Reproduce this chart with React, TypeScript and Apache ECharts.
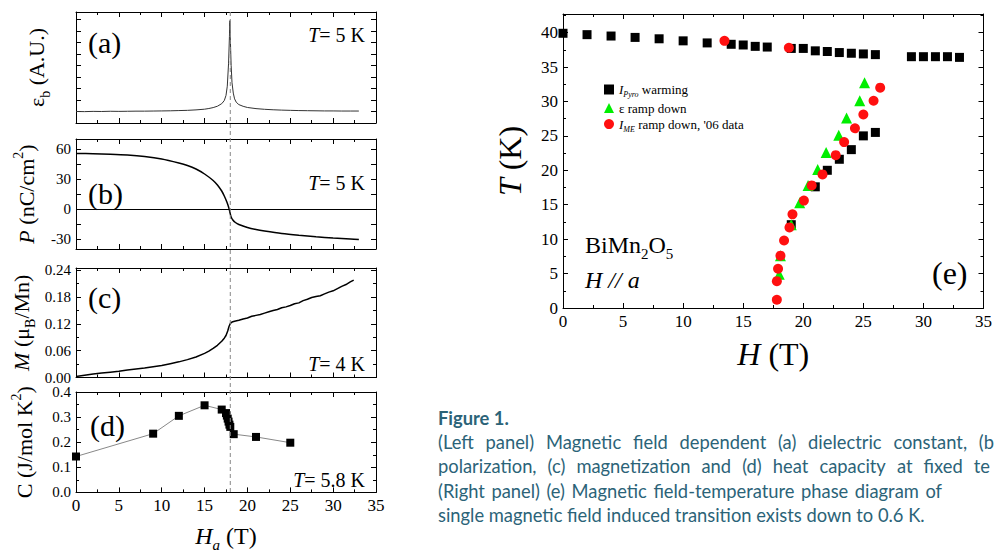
import React, { useEffect, useRef } from "react";
import * as echarts from "echarts";

const SERIF = "'Liberation Serif', 'Times New Roman', serif";
const CAPTION_FONT = "Lato, 'Open Sans', sans-serif";
const CAPTION_COLOR = "#2b6378";

// (a) dielectric constant vs field
const fieldA = [0, 1, 2, 3, 4, 5, 6, 7, 8, 9, 10, 11, 12, 13, 14, 15, 15.5, 16, 16.5, 17, 17.3, 17.5, 17.65, 17.8, 17.9, 17.95, 18.0, 18.1, 18.2, 18.35, 18.5, 18.7, 19, 19.5, 20, 21, 22, 23, 24, 25, 26, 27, 28, 29, 30, 31, 32, 33];
const epsA = [1.0, 0.99, 1.01, 1.0, 1.02, 1.01, 1.02, 1.03, 1.03, 1.04, 1.05, 1.06, 1.08, 1.1, 1.14, 1.2, 1.26, 1.34, 1.46, 1.68, 1.95, 2.4, 3.2, 5.2, 7.5, 8.9, 7.4, 5.0, 3.5, 2.6, 2.1, 1.8, 1.6, 1.45, 1.35, 1.25, 1.19, 1.15, 1.12, 1.1, 1.08, 1.07, 1.06, 1.05, 1.05, 1.04, 1.04, 1.04];

// (b) polarization
const fieldP = [0, 2, 4, 6, 8, 10, 12, 13, 14, 15, 16, 16.5, 17, 17.3, 17.6, 17.8, 17.95, 18.1, 18.3, 18.6, 19, 20, 21, 22, 24, 26, 28, 30, 32, 33];
const polP = [55.5, 55.3, 54.8, 54, 52.5, 50, 46, 43.5, 40, 35, 28.5, 24, 18, 13, 7, 2, -3, -8, -11, -13.5, -15.5, -18.5, -20.5, -22, -24.5, -26.3, -27.8, -29, -30, -30.5];

// (c) magnetization
const fieldM = [0, 1, 2, 3, 4, 5, 6, 7, 8, 9, 10, 11, 12, 13, 14, 15, 15.5, 16, 16.5, 17, 17.3, 17.5, 17.7, 17.85, 18, 18.2, 18.5, 19, 19.5, 20, 20.5, 21, 21.5, 22, 22.5, 23, 23.5, 24, 24.5, 25, 25.5, 26, 26.5, 27, 27.5, 28, 28.5, 29, 29.5, 30, 30.5, 31, 31.5, 32, 32.4];
const magM = [0.002, 0.005, 0.008, 0.01, 0.012, 0.014, 0.017, 0.019, 0.021, 0.024, 0.027, 0.031, 0.035, 0.04, 0.046, 0.054, 0.059, 0.065, 0.072, 0.081, 0.088, 0.094, 0.104, 0.114, 0.121, 0.124, 0.126, 0.128, 0.131, 0.133, 0.137, 0.139, 0.141, 0.144, 0.147, 0.15, 0.152, 0.156, 0.158, 0.161, 0.165, 0.167, 0.172, 0.175, 0.179, 0.181, 0.183, 0.187, 0.191, 0.194, 0.199, 0.204, 0.208, 0.214, 0.218];

// (d) heat capacity
const fieldC = [0, 9, 12, 15, 17, 17.5, 17.6, 17.7, 17.8, 17.9, 18.0, 18.4, 21, 25];
const heatC = [0.143, 0.234, 0.305, 0.347, 0.33, 0.316, 0.306, 0.294, 0.282, 0.27, 0.261, 0.232, 0.221, 0.198];

// (e) phase diagram
const pyroH = [0, 2, 4, 6, 8, 10, 12, 14, 15, 16, 17, 19, 20, 21, 22, 23, 24, 25, 26, 29, 30, 31, 32, 33, 19, 21, 22, 23, 24, 25, 26];
const pyroT = [39.9, 39.7, 39.5, 39.3, 39.1, 38.8, 38.5, 38.3, 38.2, 38.0, 37.9, 37.7, 37.7, 37.35, 37.25, 37.1, 37.0, 36.9, 36.8, 36.5, 36.5, 36.5, 36.5, 36.4, 12.1, 17.6, 20.0, 21.6, 23.0, 25.0, 25.5];
const epsH = [18.0, 18.1, 19.0, 19.7, 20.4, 21.2, 21.9, 22.95, 23.6, 24.7, 25.1];
const epsT = [4.9, 7.6, 12.1, 15.3, 17.8, 20.1, 22.6, 25.1, 27.6, 30.1, 32.7];
const imeH = [13.44, 18.8, 17.8, 17.8, 17.9, 18.1, 18.4, 18.85, 19.1, 20.05, 20.7, 21.6, 22.7, 23.4, 24.3, 25.0, 25.85, 26.4];
const imeT = [38.8, 37.8, 1.2, 3.9, 5.7, 7.6, 9.8, 11.7, 13.6, 15.6, 17.8, 19.4, 22.2, 24.1, 26.1, 28.1, 30.1, 32.0];

const TRANSITION_FIELD = 18;

// caption (visible portion of each line)
const captionTitle = "Figure 1.";
const captionLines = [
  "(Left panel) Magnetic field dependent (a) dielectric constant, (b",
  "polarization, (c) magnetization and (d) heat capacity at fixed te",
  "(Right panel) (e) Magnetic field-temperature phase diagram of",
  "single magnetic field induced transition exists down to 0.6 K.",
];

const zip = (xs: number[], ys: number[]) => xs.map((x, i) => [x, ys[i]]);

function rich(F: number) {
  const base = { fontFamily: SERIF, color: "#000", fill: "#000" };
  const s = Math.round(F * 0.62);
  return {
    n: { ...base, fontSize: F, lineHeight: F * 1.2 },
    i: { ...base, fontSize: F, fontStyle: "italic", lineHeight: F * 1.2 },
    sub: { ...base, fontSize: s, lineHeight: F * 1.4, verticalAlign: "bottom" },
    isub: { ...base, fontSize: s, fontStyle: "italic", lineHeight: F * 1.4, verticalAlign: "bottom" },
    sup: { ...base, fontSize: s, lineHeight: F * 1.4, verticalAlign: "top" },
  };
}

const tickStyle = { color: "#000", width: 1 };

function axisCommon(min: number, max: number, interval: number | undefined, minor: boolean) {
  return {
    min,
    max,
    interval,
    axisLine: { show: true, onZero: false, lineStyle: { color: "#000", width: 1 } },
    axisTick: { show: true, inside: true, length: 5, lineStyle: tickStyle },
    minorTick: { show: minor, splitNumber: 2, length: 3, lineStyle: tickStyle },
    splitLine: { show: false },
    minorSplitLine: { show: false },
  };
}

const labelStyleL = { fontFamily: SERIF, fontSize: 15, color: "#000", margin: 5 };
const labelStyleR = { fontFamily: SERIF, fontSize: 17, color: "#000", margin: 5 };

let measureCtx: CanvasRenderingContext2D | null = null;
function measure(text: string, font: string) {
  if (!measureCtx) measureCtx = document.createElement("canvas").getContext("2d");
  measureCtx!.font = font;
  return measureCtx!.measureText(text).width;
}

export default function App() {
  const ref = useRef<HTMLDivElement>(null);
  useEffect(() => {
    if (!ref.current) return;
    const chart = echarts.init(ref.current, null, { renderer: "svg" });

    const leftGrids = [
      { left: 76, top: 12, width: 300, height: 111 },
      { left: 76, top: 139, width: 300, height: 110 },
      { left: 76, top: 268, width: 300, height: 109.5 },
      { left: 76, top: 392, width: 300, height: 111 },
    ];
    const grids = [...leftGrids, { left: 563, top: 14, width: 427, height: 294 }];

    const yRanges = [
      { min: 0, max: 9.65, interval: 1, minor: false },
      { min: -40, max: 70, interval: undefined, minor: false },
      { min: 0, max: 0.245, interval: 0.06, minor: true },
      { min: 0, max: 0.4, interval: 0.1, minor: true },
    ];
    const yNames = [
      { name: "{n|ε}{sub|b}{n| (A.U.)}", gap: 24 },
      { name: "{i|P}{n| (nC/cm}{sup|2}{n|)}", gap: 34 },
      { name: "{i|M}{n| (μ}{sub|B}{n|/Mn)}", gap: 39 },
      { name: "{n|C (J/mol K}{sup|2}{n|)}", gap: 36 },
    ];

    const xAxis: any[] = [];
    const yAxis: any[] = [];
    for (let g = 0; g < 4; g++) {
      xAxis.push({
        type: "value",
        gridIndex: g,
        position: "bottom",
        ...axisCommon(0, 35, 5, true),
        axisLabel: { show: g === 3, ...labelStyleR },
        name: g === 3 ? "{i|H}{isub|a}{n| (T)}" : "",
        nameLocation: "middle",
        nameGap: 27,
        nameTextStyle: { rich: rich(24) },
      });
      xAxis.push({
        type: "value",
        gridIndex: g,
        position: "top",
        ...axisCommon(0, 35, 5, true),
        axisLabel: { show: false },
      });
      const yr = yRanges[g];
      const custom = g === 1;
      const tickVals = [-30, -15, 0, 15, 30, 45, 60];
      const labVals = [-30, 0, 30, 60];
      const fmt = g === 2 ? (v: number) => v.toFixed(2) : g === 3 ? (v: number) => v.toFixed(1) : (v: number) => String(v);
      yAxis.push({
        type: "value",
        gridIndex: g,
        position: "left",
        ...axisCommon(yr.min, yr.max, yr.interval, yr.minor),
        ...(custom ? { axisTick: { show: true, inside: true, length: 5, lineStyle: tickStyle, customValues: tickVals } } : {}),
        axisLabel: {
          show: g !== 0,
          ...labelStyleL,
          formatter: fmt,
          showMaxLabel: g === 3 ? true : g === 2 ? false : undefined,
          ...(custom ? { customValues: labVals } : {}),
        },
        name: yNames[g].name,
        nameLocation: "middle",
        nameRotate: 90,
        nameGap: yNames[g].gap,
        nameTextStyle: { rich: rich(22) },
      });
      yAxis.push({
        type: "value",
        gridIndex: g,
        position: "right",
        ...axisCommon(yr.min, yr.max, yr.interval, yr.minor),
        ...(custom ? { axisTick: { show: true, inside: true, length: 5, lineStyle: tickStyle, customValues: tickVals } } : {}),
        axisLabel: { show: false },
      });
    }
    // panel (e)
    xAxis.push({
      type: "value",
      gridIndex: 4,
      position: "bottom",
      ...axisCommon(0, 35, 5, true),
      axisLabel: { show: true, ...labelStyleR },
      name: "{i|H}{n| (T)}",
      nameLocation: "middle",
      nameGap: 27,
      nameTextStyle: { rich: rich(32) },
    });
    xAxis.push({
      type: "value",
      gridIndex: 4,
      position: "top",
      ...axisCommon(0, 35, 5, true),
      axisLabel: { show: false },
    });
    yAxis.push({
      type: "value",
      gridIndex: 4,
      position: "left",
      ...axisCommon(0, 42.7, 5, true),
      axisLabel: { show: true, ...labelStyleR, showMaxLabel: false },
      name: "{i|T}{n| (K)}",
      nameLocation: "middle",
      nameRotate: 90,
      nameGap: 34,
      nameTextStyle: { rich: rich(32) },
    });
    yAxis.push({
      type: "value",
      gridIndex: 4,
      position: "right",
      ...axisCommon(0, 42.7, 5, true),
      axisLabel: { show: false },
    });

    const legendNames: Record<string, string> = {
      "I_Pyro warming": "{i|I}{isub|Pyro}{n| warming}",
      "ε ramp down": "{n|ε ramp down}",
      "I_ME ramp down, '06 data": "{i|I}{isub|ME}{n| ramp down, '06 data}",
    };

    const series: any[] = [
      {
        type: "line",
        xAxisIndex: 0,
        yAxisIndex: 0,
        data: zip(fieldA, epsA),
        showSymbol: false,
        lineStyle: { color: "#333", width: 1 },
      },
      {
        type: "line",
        xAxisIndex: 2,
        yAxisIndex: 2,
        data: zip(fieldP, polP),
        showSymbol: false,
        smooth: 0.3,
        lineStyle: { color: "#000", width: 1.5 },
        markLine: {
          silent: true,
          symbol: "none",
          label: { show: false },
          lineStyle: { color: "#000", width: 1, type: "solid" },
          data: [{ yAxis: 0 }],
        },
      },
      {
        type: "line",
        xAxisIndex: 4,
        yAxisIndex: 4,
        data: zip(fieldM, magM),
        showSymbol: false,
        lineStyle: { color: "#000", width: 1.5 },
      },
      {
        type: "line",
        xAxisIndex: 6,
        yAxisIndex: 6,
        data: zip(fieldC, heatC),
        symbol: "rect",
        symbolSize: 8,
        itemStyle: { color: "#000", opacity: 1 },
        lineStyle: { color: "#888", width: 1 },
      },
      {
        name: "I_Pyro warming",
        type: "scatter",
        xAxisIndex: 8,
        yAxisIndex: 8,
        data: zip(pyroH, pyroT),
        symbol: "rect",
        symbolSize: 9,
        itemStyle: { color: "#000", opacity: 1 },
      },
      {
        name: "ε ramp down",
        type: "scatter",
        xAxisIndex: 8,
        yAxisIndex: 8,
        data: zip(epsH, epsT),
        symbol: "triangle",
        symbolSize: 11,
        itemStyle: { color: "#00ee00", opacity: 1 },
      },
      {
        name: "I_ME ramp down, '06 data",
        type: "scatter",
        xAxisIndex: 8,
        yAxisIndex: 8,
        data: zip(imeH, imeT),
        symbol: "circle",
        symbolSize: 10,
        itemStyle: { color: "#ff1010", opacity: 1 },
      },
    ];

    const option: any = {
      animation: false,
      backgroundColor: "#ffffff",
      textStyle: { fontFamily: SERIF },
      grid: grids,
      xAxis,
      yAxis,
      series,
      legend: {
        orient: "vertical",
        left: 599,
        top: 78,
        itemWidth: 10,
        itemHeight: 10,
        itemGap: 3,
        data: ["I_Pyro warming", "ε ramp down", "I_ME ramp down, '06 data"],
        formatter: (name: string) => legendNames[name],
        textStyle: { rich: rich(13) },
      },
    };
    chart.setOption(option);

    const top = chart.convertToPixel({ gridIndex: 0 } as any, [TRANSITION_FIELD, yRanges[0].max]) as number[];
    const bot = chart.convertToPixel({ gridIndex: 3 } as any, [TRANSITION_FIELD, 0]) as number[];

    const txt = (x: number, y: number, text: string, F: number, align = "left") => ({
      type: "text",
      x,
      y,
      z: 10,
      style: { text, rich: rich(F), align, verticalAlign: "middle", font: `${F}px ${SERIF}` },
    });

    // caption: size fitted so that the last (natural) line spans the reference width,
    // the other lines are justified to their visible extent
    const capLeft = 438;
    const lastLineWidth = 487;
    const capSize = (16 * lastLineWidth) / measure(captionLines[3], `16px ${CAPTION_FONT}`);
    const capFont = `${capSize.toFixed(2)}px ${CAPTION_FONT}`;
    const capEnds = [994, 990, 942, null];
    const capYs = [442, 466, 491, 515];
    const captionGraphics: any[] = [
      {
        type: "text",
        x: capLeft,
        y: 418,
        style: { text: captionTitle, fill: CAPTION_COLOR, font: `bold ${capSize.toFixed(2)}px ${CAPTION_FONT}`, verticalAlign: "middle" },
      },
    ];
    captionLines.forEach((line, li) => {
      const end = capEnds[li];
      if (end == null) {
        captionGraphics.push({
          type: "text",
          x: capLeft,
          y: capYs[li],
          style: { text: line, fill: CAPTION_COLOR, font: capFont, verticalAlign: "middle" },
        });
        return;
      }
      const words = line.split(" ");
      const widths = words.map((w) => measure(w, capFont));
      const sum = widths.reduce((a, b) => a + b, 0);
      const gap = (end - capLeft - sum) / (words.length - 1);
      let x = capLeft;
      words.forEach((w, wi) => {
        captionGraphics.push({
          type: "text",
          x,
          y: capYs[li],
          style: { text: w, fill: CAPTION_COLOR, font: capFont, verticalAlign: "middle" },
        });
        x += widths[wi] + gap;
      });
    });

    chart.setOption({
      graphic: [
        {
          type: "line",
          z: 5,
          shape: { x1: top[0], y1: top[1], x2: bot[0], y2: bot[1] },
          style: { stroke: "#888", lineWidth: 1, lineDash: [4, 3] },
        },
        txt(88, 42, "{n|(a)}", 30),
        txt(88, 193, "{n|(b)}", 30),
        txt(88, 297, "{n|(c)}", 30),
        txt(90, 425, "{n|(d)}", 30),
        txt(365, 35, "{i|T}{n|= 5 K}", 20, "right"),
        txt(365, 183, "{i|T}{n|= 5 K}", 20, "right"),
        txt(365, 364, "{i|T}{n|= 4 K}", 20, "right"),
        txt(365, 480, "{i|T}{n|= 5.8 K}", 20, "right"),
        txt(585, 245, "{n|BiMn}{sub|2}{n|O}{sub|5}", 24),
        txt(585, 280, "{i|H // a}", 24),
        txt(932, 273, "{n|(e)}", 32),
        ...captionGraphics,
      ],
    });

    return () => chart.dispose();
  }, []);

  return (
    <div
      ref={ref}
      style={{ position: "fixed", left: 0, top: 0, width: 995, height: 554, background: "#fff" }}
    />
  );
}
